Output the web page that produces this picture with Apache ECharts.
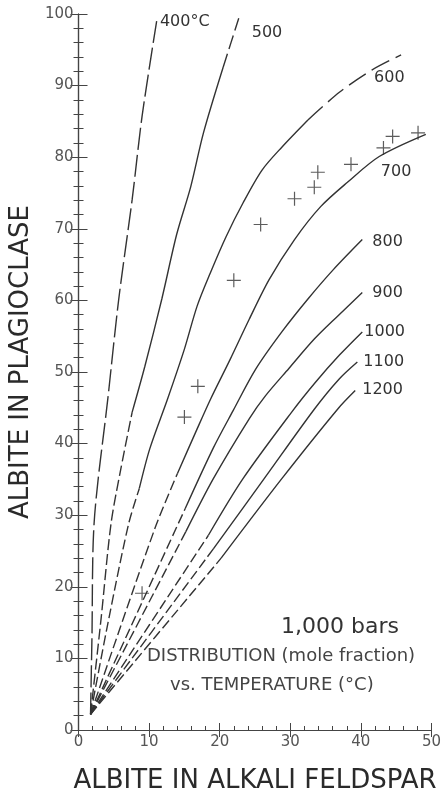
<!DOCTYPE html>
<html>
<head>
<meta charset="utf-8">
<script src="https://cdn.jsdelivr.net/npm/echarts@6/dist/echarts.min.js"></script>
<style>
html,body{margin:0;padding:0;background:#fff;}
#chart{width:444px;height:799px;}
</style>
</head>
<body>
<div id="chart"></div>
<script>
// ---- data (x = albite in alkali feldspar, y = albite in plagioclase) ----
const tempLabels = ['400°C', '500', '600', '700', '800', '900', '1000', '1100', '1200'];

const c400  = [[1.7,2.2],[1.9,12.8],[2.2,28.8],[4.2,46.7],[5.7,60.2],[7.6,74.1],[9.0,85.7],[11.1,99.2]];
const c500  = [[1.7,2.2],[3.2,15.6],[4.6,28.8],[6.0,36.5],[7.6,44.4],[9.4,50.8],[11.8,60.2],[13.9,69.2],[15.9,75.9],[17.7,83.4],[20.5,92.6],[22.7,99.4]];
const c600  = [[1.7,2.2],[4.3,15.6],[7.1,28.8],[8.6,33.7],[10.1,39.3],[12.6,46.2],[15.0,53.2],[16.8,59.2],[18.7,63.9],[20.9,68.9],[23.3,73.6],[26.0,78.2],[28.8,81.4],[32.5,85.2],[37.0,89.1],[41.6,92.2],[45.7,94.3]];
const c700  = [[1.7,2.2],[10.8,28.1],[14.0,35.8],[16.6,41.6],[18.7,46.2],[21.5,51.8],[24.2,57.4],[27.0,62.9],[30.6,68.5],[34.3,73.1],[38.1,76.5],[42.6,80.1],[49.2,83.2]];
const c800  = [[1.7,2.2],[15.1,30.9],[19.1,39.4],[21.9,44.6],[25.1,50.4],[28.8,55.6],[32.5,60.2],[36.1,64.3],[40.2,68.5]];
const c900  = [[1.7,2.2],[15.2,27.7],[19.1,35.1],[24.2,43.5],[26.5,46.7],[29.8,50.5],[33.4,54.6],[36.7,57.8],[40.2,61.1]];
const c1000 = [[1.7,2.2],[18.4,27.2],[23.3,35.1],[30.2,44.4],[33.6,48.6],[37.0,52.4],[40.2,55.6]];
const c1100 = [[1.7,2.2],[19.1,25.3],[26.3,35.1],[33.4,44.8],[36.9,49.0],[39.5,51.4]];
const c1200 = [[1.7,2.2],[20.2,24.0],[28.8,35.1],[36.7,44.8],[39.2,47.4]];

// measured compositions (crosses)
const plusX = [9.0, 15.0, 16.9, 22.0, 25.8, 30.6, 33.4, 33.9, 38.6, 43.2, 44.5, 48.1];
const plusY = [19.1, 43.7, 48.0, 62.8, 70.6, 74.2, 75.8, 77.9, 79.0, 81.3, 82.9, 83.4];

const xTicks = [0, 10, 20, 30, 40, 50];
const yTicks = [0, 10, 20, 30, 40, 50, 60, 70, 80, 90, 100];

// ---- styling: which stretches of each curve are dashed (point index ranges) ----
const curves = [c400, c500, c600, c700, c800, c900, c1000, c1100, c1200];
const segments = [
  [['d',0,7,[22,5]]],
  [['d',0,4,[11,4]],['s',4,10],['d',10,11,[14,5]]],
  [['d',0,3,[10,4]],['s',3,13],['d',13,16,[20,7]]],
  [['d',0,2,[10,4]],['s',2,12]],
  [['d',0,1,[10,4]],['s',1,8]],
  [['d',0,1,[10,4]],['s',1,8]],
  [['d',0,1,[10,4]],['s',1,6]],
  [['d',0,1,[10,4]],['s',1,5]],
  [['d',0,1,[10,4]],['s',1,4]]
];
const labelOffsets = [[3,2],[13,15],[-27,23],[-45,38],[10,2],[10,0],[2,0],[6,0],[7,-1]];

const FONT = 'DejaVu Sans';
const INK = '#333';

const series = [];
curves.forEach((pts, ci) => {
  const segs = segments[ci];
  segs.forEach((sg, si) => {
    const isLast = si === segs.length - 1;
    series.push({
      type: 'line',
      data: pts.slice(sg[1], sg[2] + 1),
      smooth: 0.3,
      showSymbol: false,
      symbol: 'none',
      silent: true,
      lineStyle: { color: INK, width: 1.4, type: sg[0] === 'd' ? sg[3] : 'solid' },
      endLabel: isLast ? {
        show: true,
        formatter: tempLabels[ci],
        distance: 0,
        offset: labelOffsets[ci],
        align: 'left',
        verticalAlign: 'middle',
        color: INK,
        fontFamily: FONT,
        fontSize: 16
      } : { show: false },
      z: 3
    });
  });
});

series.push({
  type: 'scatter',
  data: plusX.map((x, i) => [x, plusY[i]]),
  symbol: 'path://M0,6.4H14V7.6H0Z M6.4,0H7.6V14H6.4Z',
  symbolSize: 14,
  itemStyle: { color: INK },
  silent: true,
  z: 4
});

const axisCol = '#444';
const chart = echarts.init(document.getElementById('chart'), null, { renderer: 'canvas' });
chart.setOption({
  animation: false,
  backgroundColor: '#fff',
  grid: { left: 72, right: 11, top: 14, bottom: 67, containLabel: false },
  xAxis: [{
    type: 'value', position: 'bottom', min: xTicks[0], max: xTicks[xTicks.length - 1], interval: 10,
    name: 'ALBITE IN ALKALI FELDSPAR', nameLocation: 'middle', nameGap: 38,
    nameTextStyle: { fontFamily: FONT, fontSize: 26, color: '#2a2a2a' },
    axisLine: { show: true, lineStyle: { color: axisCol, width: 1.2 } },
    axisTick: { show: true, inside: true, length: 7, lineStyle: { color: axisCol } },
    minorTick: { show: true, splitNumber: 5, length: 4, lineStyle: { color: axisCol } },
    splitLine: { show: false },
    axisLabel: { fontFamily: FONT, fontSize: 15, color: '#555', margin: 5 }
  }, {
    type: 'value', position: 'top', min: xTicks[0], max: xTicks[xTicks.length - 1], interval: 10,
    axisLine: { show: true, lineStyle: { color: axisCol, width: 1.2 } },
    axisTick: { show: true, inside: true, length: 7, lineStyle: { color: axisCol } },
    axisLabel: { show: false }, splitLine: { show: false }
  }],
  yAxis: [{
    type: 'value', position: 'left', min: yTicks[0], max: yTicks[yTicks.length - 1], interval: 10,
    name: 'ALBITE IN PLAGIOCLASE', nameLocation: 'middle', nameGap: 41, nameRotate: 90,
    nameTextStyle: { fontFamily: FONT, fontSize: 26, color: '#2a2a2a', padding: [0, 0, 0, 20] },
    axisLine: { show: true, lineStyle: { color: axisCol, width: 1.2 } },
    axisTick: { show: true, inside: true, length: 9, lineStyle: { color: axisCol } },
    minorTick: { show: true, splitNumber: 5, length: 5, lineStyle: { color: axisCol } },
    splitLine: { show: false },
    axisLabel: { fontFamily: FONT, fontSize: 15, color: '#555', margin: 5 }
  }, {
    type: 'value', position: 'right', min: yTicks[0], max: yTicks[yTicks.length - 1], interval: 10,
    axisLine: { show: true, lineStyle: { color: axisCol, width: 1.2 } },
    axisTick: { show: true, inside: true, length: 8, lineStyle: { color: axisCol } },
    minorTick: { show: true, splitNumber: 5, length: 5, lineStyle: { color: axisCol } },
    axisLabel: { show: false }, splitLine: { show: false }
  }],
  graphic: [
    { type: 'text', left: 281, top: 616, style: { text: '1,000 bars', fontFamily: FONT, fontSize: 22, fill: INK } },
    { type: 'text', left: 147, top: 647, style: { text: 'DISTRIBUTION (mole fraction)', fontFamily: FONT, fontSize: 18, fill: '#444' } },
    { type: 'text', left: 170, top: 676, style: { text: 'vs. TEMPERATURE (°C)', fontFamily: FONT, fontSize: 18, fill: '#444' } }
  ],
  series: series
});
</script>
</body>
</html>
